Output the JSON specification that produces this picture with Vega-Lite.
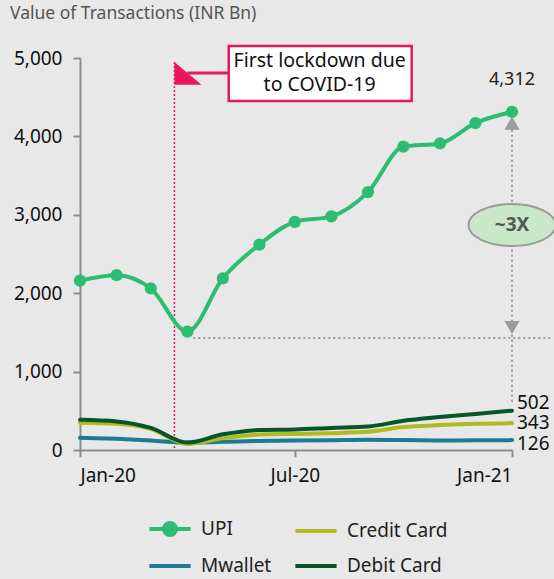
{
  "$schema": "https://vega.github.io/schema/vega-lite/v6.json",
  "width": 432,
  "height": 392,
  "autosize": {"type": "none"},
  "padding": {"left": 80, "top": 58, "right": 42, "bottom": 129},
  "background": "#e8e8e8",
  "config": {"font": "Noto Sans", "view": {"stroke": null}},
  "title": {"text": "Value of Transactions (INR Bn)", "anchor": "start", "frame": "group", "dx": -70, "offset": 22, "fontSize": 17.5, "fontWeight": "normal", "color": "#555555"},
  "datasets": {
    "series": [
      {"date": "2020-01-01", "series": "Mwallet", "value": 155},
      {"date": "2020-02-01", "series": "Mwallet", "value": 142},
      {"date": "2020-03-01", "series": "Mwallet", "value": 122},
      {"date": "2020-04-01", "series": "Mwallet", "value": 92},
      {"date": "2020-05-01", "series": "Mwallet", "value": 105},
      {"date": "2020-06-01", "series": "Mwallet", "value": 115},
      {"date": "2020-07-01", "series": "Mwallet", "value": 120},
      {"date": "2020-08-01", "series": "Mwallet", "value": 125},
      {"date": "2020-09-01", "series": "Mwallet", "value": 130},
      {"date": "2020-10-01", "series": "Mwallet", "value": 126},
      {"date": "2020-11-01", "series": "Mwallet", "value": 122},
      {"date": "2020-12-01", "series": "Mwallet", "value": 123},
      {"date": "2021-01-01", "series": "Mwallet", "value": 126},
      {"date": "2020-01-01", "series": "Credit Card", "value": 348},
      {"date": "2020-02-01", "series": "Credit Card", "value": 335},
      {"date": "2020-03-01", "series": "Credit Card", "value": 270},
      {"date": "2020-04-01", "series": "Credit Card", "value": 78},
      {"date": "2020-05-01", "series": "Credit Card", "value": 150},
      {"date": "2020-06-01", "series": "Credit Card", "value": 198},
      {"date": "2020-07-01", "series": "Credit Card", "value": 205},
      {"date": "2020-08-01", "series": "Credit Card", "value": 215},
      {"date": "2020-09-01", "series": "Credit Card", "value": 232},
      {"date": "2020-10-01", "series": "Credit Card", "value": 292},
      {"date": "2020-11-01", "series": "Credit Card", "value": 318},
      {"date": "2020-12-01", "series": "Credit Card", "value": 335},
      {"date": "2021-01-01", "series": "Credit Card", "value": 343},
      {"date": "2020-01-01", "series": "Debit Card", "value": 385},
      {"date": "2020-02-01", "series": "Debit Card", "value": 365},
      {"date": "2020-03-01", "series": "Debit Card", "value": 282},
      {"date": "2020-04-01", "series": "Debit Card", "value": 95},
      {"date": "2020-05-01", "series": "Debit Card", "value": 200},
      {"date": "2020-06-01", "series": "Debit Card", "value": 255},
      {"date": "2020-07-01", "series": "Debit Card", "value": 262},
      {"date": "2020-08-01", "series": "Debit Card", "value": 282},
      {"date": "2020-09-01", "series": "Debit Card", "value": 300},
      {"date": "2020-10-01", "series": "Debit Card", "value": 372},
      {"date": "2020-11-01", "series": "Debit Card", "value": 420},
      {"date": "2020-12-01", "series": "Debit Card", "value": 460},
      {"date": "2021-01-01", "series": "Debit Card", "value": 502},
      {"date": "2020-01-01", "series": "UPI", "value": 2160},
      {"date": "2020-02-01", "series": "UPI", "value": 2230},
      {"date": "2020-03-01", "series": "UPI", "value": 2060},
      {"date": "2020-04-01", "series": "UPI", "value": 1510},
      {"date": "2020-05-01", "series": "UPI", "value": 2190},
      {"date": "2020-06-01", "series": "UPI", "value": 2620},
      {"date": "2020-07-01", "series": "UPI", "value": 2910},
      {"date": "2020-08-01", "series": "UPI", "value": 2980},
      {"date": "2020-09-01", "series": "UPI", "value": 3290},
      {"date": "2020-10-01", "series": "UPI", "value": 3870},
      {"date": "2020-11-01", "series": "UPI", "value": 3910},
      {"date": "2020-12-01", "series": "UPI", "value": 4170},
      {"date": "2021-01-01", "series": "UPI", "value": 4312}
    ]
  },
  "encoding": {
    "x": {
      "field": "date",
      "type": "temporal",
      "scale": {"type": "utc", "domain": [{"year": 2020, "month": 1, "date": 1, "utc": true}, {"year": 2021, "month": 1, "date": 1, "utc": true}]},
      "axis": {
        "values": [{"year": 2020, "month": 1, "date": 1, "utc": true}, {"year": 2020, "month": 7, "date": 1, "utc": true}, {"year": 2021, "month": 1, "date": 1, "utc": true}],
        "format": "%b-%y",
        "title": null,
        "grid": false,
        "domainColor": "#8c8c8c",
        "domainWidth": 2,
        "tickColor": "#8c8c8c",
        "tickWidth": 2,
        "tickSize": 7,
        "labelFontSize": 19,
        "labelColor": "#111111",
        "labelPadding": 9,
        "labelFont": "Noto Sans"
      }
    },
    "y": {
      "field": "value",
      "type": "quantitative",
      "scale": {"domain": [0, 5000], "nice": false},
      "axis": {
        "values": [0, 1000, 2000, 3000, 4000, 5000],
        "format": ",.0f",
        "title": null,
        "grid": false,
        "domainColor": "#8c8c8c",
        "domainWidth": 2,
        "tickColor": "#8c8c8c",
        "tickWidth": 2,
        "tickSize": 7,
        "labelFontSize": 19,
        "labelColor": "#111111",
        "labelPadding": 11,
        "labelFont": "Noto Sans"
      }
    }
  },
  "layer": [
    {
      "data": {"values": [{"date": "2020-03-21", "value": 4950, "value2": 0}]},
      "mark": {"type": "rule", "color": "#e8175d", "strokeDash": [2, 2], "strokeWidth": 1.5},
      "encoding": {"y2": {"field": "value2"}}
    },
    {
      "data": {"values": [{"date": "2020-04-06", "date2": "2021-02-04", "value": 1430}]},
      "mark": {"type": "rule", "color": "#9a9a9a", "strokeDash": [2, 3], "strokeWidth": 2},
      "encoding": {"x2": {"field": "date2"}}
    },
    {
      "data": {"values": [{"date": "2021-01-01", "value": 4150, "value2": 600}]},
      "mark": {"type": "rule", "color": "#9a9a9a", "strokeDash": [2, 3], "strokeWidth": 2},
      "encoding": {"y2": {"field": "value2"}}
    },
    {
      "data": {"name": "series"},
      "mark": {"type": "line", "interpolate": "monotone", "strokeWidth": 4, "strokeCap": "round"},
      "encoding": {
        "color": {
          "field": "series",
          "type": "nominal",
          "scale": {"domain": ["UPI", "Mwallet", "Credit Card", "Debit Card"], "range": ["#2cbd72", "#1b7a94", "#b1bb1d", "#08542b"]},
          "legend": {
            "orient": "none",
            "legendX": 67,
            "legendY": 448,
            "columns": 2,
            "title": null,
            "symbolType": "stroke",
            "symbolSize": 1700,
            "symbolStrokeWidth": 4,
            "labelFontSize": 19,
            "labelColor": "#222222",
            "labelFont": "Noto Sans",
            "labelOffset": 8,
            "rowPadding": -3,
            "columnPadding": 15,
            "encode": {
              "symbols": {
                "update": {
                  "shape": {"signal": "datum.value === 'UPI' ? 'M-1,0L1,0M-0.29,0C-0.29,-0.16,-0.16,-0.29,0,-0.29C0.16,-0.29,0.29,-0.16,0.29,0C0.29,0.16,0.16,0.29,0,0.29C-0.16,0.29,-0.29,0.16,-0.29,0Z' : 'stroke'"},
                  "fill": {"signal": "datum.value === 'UPI' ? scale('color', datum.value) : 'transparent'"},
                  "stroke": {"signal": "scale('color', datum.value)"},
                  "strokeWidth": {"value": 4},
                  "opacity": {"value": 1}
                }
              }
            }
          }
        },
        "strokeWidth": {"condition": {"test": "datum.series === 'UPI'", "value": 5}, "value": 4}
      }
    },
    {
      "data": {"name": "series"},
      "transform": [{"filter": "datum.series === 'UPI'"}],
      "mark": {"type": "point", "filled": true, "size": 150, "opacity": 1},
      "encoding": {"color": {"field": "series", "type": "nominal"}}
    },
    {
      "data": {"values": [{"date": "2021-01-01", "value": 4170}]},
      "mark": {"type": "point", "shape": "triangle-up", "filled": true, "size": 230, "color": "#9a9a9a", "opacity": 1}
    },
    {
      "data": {"values": [{"date": "2021-01-01", "value": 1563}]},
      "mark": {"type": "point", "shape": "triangle-down", "filled": true, "size": 230, "color": "#9a9a9a", "opacity": 1}
    },
    {
      "data": {"values": [{"date": "2021-01-01", "value": 2870, "label": "~3X"}]},
      "mark": {"type": "point", "shape": "M-1,0C-1,-0.267,-0.552,-0.483,0,-0.483C0.552,-0.483,1,-0.267,1,0C1,0.267,0.552,0.483,0,0.483C-0.552,0.483,-1,0.267,-1,0Z", "size": 7569, "filled": true, "fill": "#c8e8c9", "stroke": "#9a9a9a", "strokeWidth": 2, "opacity": 1}
    },
    {
      "data": {"values": [{"date": "2021-01-01", "value": 2870, "label": "~3X"}]},
      "mark": {"type": "text", "fontSize": 19, "fontWeight": "bold", "color": "#555555", "align": "center", "baseline": "middle"},
      "encoding": {"text": {"field": "label"}}
    },
    {
      "data": {"name": "series"},
      "transform": [{"filter": "datum.series === 'Debit Card' && utcyear(datum.date) === 2021"}],
      "mark": {"type": "text", "align": "left", "baseline": "middle", "dx": 5, "dy": -8, "fontSize": 19, "color": "#111111"},
      "encoding": {"text": {"field": "value", "type": "quantitative", "format": ",.0f"}}
    },
    {
      "data": {"name": "series"},
      "transform": [{"filter": "datum.series === 'Credit Card' && utcyear(datum.date) === 2021"}],
      "mark": {"type": "text", "align": "left", "baseline": "middle", "dx": 5, "dy": 0, "fontSize": 19, "color": "#111111"},
      "encoding": {"text": {"field": "value", "type": "quantitative", "format": ",.0f"}}
    },
    {
      "data": {"name": "series"},
      "transform": [{"filter": "datum.series === 'Mwallet' && utcyear(datum.date) === 2021"}],
      "mark": {"type": "text", "align": "left", "baseline": "middle", "dx": 5, "dy": 4, "fontSize": 19, "color": "#111111"},
      "encoding": {"text": {"field": "value", "type": "quantitative", "format": ",.0f"}}
    },
    {
      "data": {"name": "series"},
      "transform": [{"filter": "datum.series === 'UPI' && utcyear(datum.date) === 2021"}],
      "mark": {"type": "text", "align": "center", "baseline": "middle", "dy": -32, "fontSize": 18, "color": "#222222"},
      "encoding": {"text": {"field": "value", "type": "quantitative", "format": ",.0f"}}
    },
    {
      "data": {"values": [{"date": "2020-04-01", "date2": "2020-05-06", "value": 4809}]},
      "mark": {"type": "rule", "color": "#e8175d", "strokeWidth": 3},
      "encoding": {"x2": {"field": "date2"}}
    },
    {
      "data": {"values": [{"date": "2020-03-21", "value": 4950}]},
      "mark": {"type": "point", "shape": "M0,0L2,1.7L0,1.7Z", "size": 729, "filled": true, "color": "#e8175d", "opacity": 1}
    },
    {
      "data": {"values": [{"date": "2020-05-06", "date2": "2020-10-08", "value": 5153, "value2": 4453}]},
      "mark": {"type": "rect", "fill": "#ffffff", "stroke": "#e8175d", "strokeWidth": 2.5},
      "encoding": {"x2": {"field": "date2"}, "y2": {"field": "value2"}}
    },
    {
      "data": {"values": [{"date": "2020-07-22", "value": 4821}]},
      "mark": {"type": "text", "text": ["First lockdown due", "to COVID-19"], "fontSize": 19.5, "lineHeight": 24, "dy": -11, "align": "center", "baseline": "middle", "color": "#111111"}
    }
  ]
}
